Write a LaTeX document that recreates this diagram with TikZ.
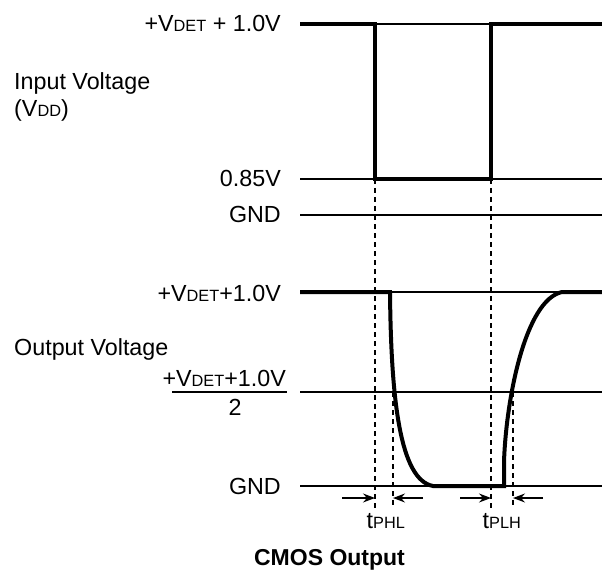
\documentclass[tikz,border=0pt]{standalone}
\usepackage{fontspec}
\setmainfont{Liberation Sans}
\usetikzlibrary{arrows.meta}
\newcommand{\smtxt}[1]{{\fontsize{16.3}{18}\selectfont #1}}
\begin{document}
\begin{tikzpicture}[x=1pt,y=-1pt,
  lbl/.style={inner sep=0pt,font=\fontsize{23.3}{28}\selectfont},
  thinline/.style={line width=1.2pt},
  thickline/.style={line width=4pt},
  dashline/.style={line width=1.3pt,dash pattern=on 5pt off 4pt},
  tarrow/.style={line width=1.2pt,-{Stealth[length=12pt,width=9pt,inset=4pt]}}]
\useasboundingbox (0,0) rectangle (602,572);
% reference line end points
\coordinate (l1a) at (300,24);  \coordinate (l1b) at (602,24);
\coordinate (l2a) at (300,179); \coordinate (l2b) at (602,179);
\coordinate (l3a) at (300,215); \coordinate (l3b) at (602,215);
\coordinate (l4a) at (300,292); \coordinate (l4b) at (602,292);
\coordinate (l5a) at (300,392); \coordinate (l5b) at (602,392);
\coordinate (l6a) at (300,486); \coordinate (l6b) at (602,486);
\foreach \i in {1,...,6} \draw[thinline] (l\i a) -- (l\i b);
% input waveform
\coordinate (ia) at (375,24);  \coordinate (ib) at (375,179);
\coordinate (ic) at (491,179); \coordinate (id) at (491,24);
\draw[thickline] (l1a) -- (ia) -- (ib) -- (ic) -- (id) -- (l1b);
% output waveform
\coordinate (oa) at (390,292); \coordinate (ob) at (433,486);
\coordinate (oc) at (504,486); \coordinate (od) at (504,462);
\coordinate (oe) at (562,292);
\draw[thickline] (l4a) -- (oa) .. controls (391,400) and (400,480) .. (ob)
  -- (oc) -- (od) .. controls (506,400) and (525,300) .. (oe) -- (l4b);
% dashed timing lines
\coordinate (d1a) at (375,179); \coordinate (d1b) at (375,508);
\coordinate (d2a) at (393,392); \coordinate (d2b) at (393,508);
\coordinate (d3a) at (491,179); \coordinate (d3b) at (491,508);
\coordinate (d4a) at (513,392); \coordinate (d4b) at (513,508);
\foreach \i in {1,...,4} \draw[dashline] (d\i a) -- (d\i b);
% timing arrows
\coordinate (a1s) at (342,498); \coordinate (a1e) at (375,498);
\coordinate (a2s) at (423,498); \coordinate (a2e) at (393,498);
\coordinate (a3s) at (460,498); \coordinate (a3e) at (491,498);
\coordinate (a4s) at (543,498); \coordinate (a4e) at (513,498);
\foreach \i in {1,...,4} \draw[tarrow] (a\i s) -- (a\i e);
% labels
\node[lbl,anchor=base east] (t1) at (281,32) {+V\smtxt{DET} + 1.0V};
\node[lbl,anchor=base west] (t2) at (14,90) {Input Voltage};
\node[lbl,anchor=base west] (t3) at (14,116.5) {(V\smtxt{DD})};
\node[lbl,anchor=base east] (t4) at (281,187) {0.85V};
\node[lbl,anchor=base east] (t5) at (281,222.5) {GND};
\node[lbl,anchor=base east] (t6) at (281,301.5) {+V\smtxt{DET}+1.0V};
\node[lbl,anchor=base west] (t7) at (14,355) {Output Voltage};
\node[lbl,anchor=base east] (t8) at (286,386) {+V\smtxt{DET}+1.0V};
\coordinate (fa) at (172,392); \coordinate (fb) at (287,392);
\draw[thinline] (fa) -- (fb);
\node[lbl,anchor=base] (t9) at (235,415) {2};
\node[lbl,anchor=base east] (t10) at (281,494) {GND};
\node[lbl,anchor=base west] (t11) at (366.5,528.3) {t\smtxt{PHL}};
\node[lbl,anchor=base west] (t12) at (482.5,528.3) {t\smtxt{PLH}};
\node[lbl,anchor=base,font=\fontsize{23}{28}\selectfont\bfseries] (t13) at (329.5,565) {CMOS Output};
\end{tikzpicture}
\end{document}
